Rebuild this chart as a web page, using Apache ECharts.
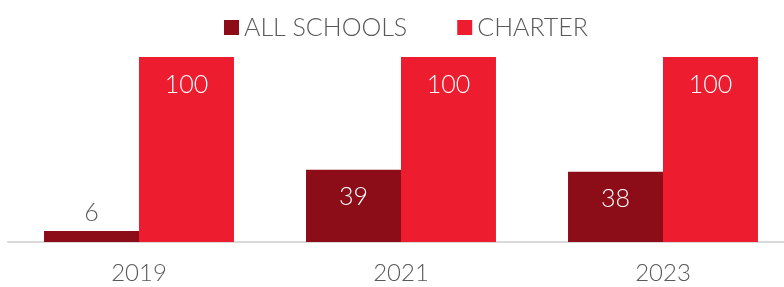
<!DOCTYPE html>
<html><head><meta charset="utf-8">
<script src="https://cdn.jsdelivr.net/npm/echarts@6/dist/echarts.min.js"></script>
<style>html,body{margin:0;padding:0;background:#fff;overflow:hidden;width:784px;height:287px}#c{width:800px;height:287px}</style>
</head><body><div id="c"></div>
<script>
const categories = ['2019', '2021', '2023'];
const allSchools = [6, 39, 38];
const charter = [100, 100, 100];
const seriesNames = ['ALL SCHOOLS', 'CHARTER'];

const FONT = 'Lato';
const chart = echarts.init(document.getElementById('c'));
const insideLabel = {show: true, position: 'insideTop', distance: 15, color: '#fff', fontSize: 25, fontFamily: FONT, fontWeight: 300};
chart.setOption({
  animation: false,
  legend: {
    top: 10, left: 219, itemWidth: 15, itemHeight: 15, itemGap: 50,
    icon: 'rect',
    textStyle: {color: '#595959', fontSize: 25, fontFamily: FONT, fontWeight: 300},
    data: seriesNames
  },
  grid: {left: 8, width: 786, top: 57, bottom: 45, containLabel: false},
  xAxis: {
    type: 'category', data: categories,
    axisLine: {lineStyle: {color: '#d9d9d9', width: 2}},
    axisTick: {show: false},
    axisLabel: {color: '#595959', fontSize: 24, fontFamily: FONT, fontWeight: 300, margin: 19}
  },
  yAxis: {type: 'value', min: 0, max: 100, show: false, splitLine: {show: false}},
  series: [
    {
      name: seriesNames[0], type: 'bar', barGap: 0, barCategoryGap: '27.5%',
      itemStyle: {color: '#8C0C18'},
      label: insideLabel,
      data: allSchools.map(v => v < 15 ? {value: v, label: {position: 'top', distance: 5, color: '#595959'}} : v)
    },
    {
      name: seriesNames[1], type: 'bar', barGap: 0, barCategoryGap: '27.5%',
      itemStyle: {color: '#ED1C2E'},
      label: insideLabel,
      data: charter
    }
  ]
});
</script></body></html>
